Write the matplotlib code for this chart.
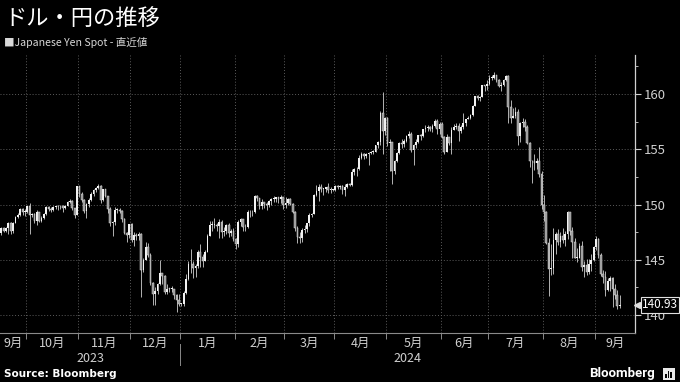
import numpy as np
import pandas as pd
import matplotlib
matplotlib.use("Agg")
import matplotlib.pyplot as plt
import matplotlib.transforms as mtransforms
from matplotlib.patches import Rectangle

plt.rcParams["font.family"] = ["Noto Sans CJK JP", "DejaVu Sans"]

# daily USD/JPY, 2023-09-15 .. 2024-09-16 (weekdays)
first_open = 147.45
close = [
    147.85, 147.62, 147.85, 148.35, 147.60, 148.37, 148.85, 149.05, 149.63, 149.32, 149.37,
    149.86, 149.03, 149.13, 148.50, 149.32, 148.52, 148.74, 149.13, 149.80, 149.56, 149.50,
    149.80, 149.87, 149.83, 149.86, 149.72, 149.90, 150.20, 150.35, 149.65, 149.10, 151.68,
    150.95, 150.45, 149.38, 150.05, 150.38, 150.95, 151.35, 151.52, 151.69, 150.39, 151.38,
    150.73, 149.60, 148.35, 148.38, 149.55, 149.55, 149.44, 148.70, 147.43, 147.27, 148.20,
    146.80, 147.22, 147.17, 147.30, 144.10, 144.95, 146.20, 145.40, 142.90, 141.90, 142.15,
    142.80, 143.80, 143.55, 142.10, 142.40, 142.35, 142.40, 141.80, 141.40, 141.00,
    141.00, 142.00, 143.30, 144.60, 144.60, 144.25, 144.45, 145.75, 145.28, 144.90, 145.75,
    147.20, 148.15, 148.15, 148.15, 148.10, 148.40, 147.55, 147.65, 148.15, 147.45, 147.60, 146.90,
    146.45, 148.40, 148.65, 147.95, 147.95, 149.30, 149.30, 149.35, 150.80, 150.60, 149.90,
    150.25, 150.05, 150.00, 150.30, 150.50, 150.50, 150.65, 150.50, 150.65, 149.95,
    150.10, 150.50, 150.05, 149.35, 147.85, 147.05, 146.95, 147.70, 147.75, 148.30, 149.05,
    149.15, 150.85, 151.25, 151.55, 151.40, 151.40, 151.55, 151.35, 151.35, 151.35,
    151.65, 151.55, 151.70, 151.35, 151.60, 151.85, 151.75, 152.95, 153.20, 153.25, 154.25,
    154.60, 154.35, 154.60, 154.65, 154.80, 154.80, 155.35, 155.65, 158.30, 156.70, 157.80,
    155.60, 155.65, 153.05, 153.90, 154.65, 155.55, 155.45, 155.75, 156.20, 156.40, 154.90,
    155.40, 155.65, 156.25, 156.20, 156.80, 156.95, 157.00, 156.85, 157.15, 157.60, 156.80, 157.30,
    156.10, 154.80, 156.10, 155.60, 156.75, 157.05, 157.15, 156.65, 157.05, 157.35,
    157.70, 157.85, 158.10, 158.95, 159.80, 159.65, 159.70, 160.80, 160.75, 160.90,
    161.45, 161.45, 161.70, 161.25, 160.75, 160.85, 161.30, 161.60, 158.80, 157.85, 158.05,
    158.35, 156.20, 157.40, 157.45, 157.00, 155.60, 153.90, 153.95, 153.75, 153.90, 152.75, 149.95,
    149.35, 146.55, 144.20, 144.30, 146.80, 147.30, 146.60, 147.20, 146.80, 147.30, 149.30,
    147.65, 146.65, 145.20, 145.20, 146.25, 144.35, 144.50, 143.90, 144.60, 144.95, 146.15,
    146.90, 145.45, 143.75, 143.45, 142.30, 143.10, 143.40, 142.40, 141.80, 140.85, 140.93,
]
high = [
    147.95, 147.95, 148.00, 148.45, 148.45, 148.45, 148.95, 149.20, 149.70, 149.70, 149.60,
    149.90, 150.16, 149.25, 149.20, 149.53, 149.35, 148.95, 149.20, 149.85, 149.85, 149.75,
    149.85, 149.90, 150.00, 150.00, 150.00, 149.95, 150.30, 150.50, 150.40, 149.65, 151.70,
    151.72, 151.10, 150.50, 150.15, 150.55, 151.10, 151.45, 151.60, 151.90, 151.75, 151.45,
    151.40, 150.75, 149.75, 148.50, 149.75, 149.65, 149.70, 149.50, 148.80, 147.50, 148.25,
    148.35, 147.50, 147.45, 147.50, 147.40, 145.20, 146.60, 146.55, 145.60, 143.00, 142.50,
    142.90, 144.95, 143.85, 143.60, 142.80, 142.45, 142.65, 142.40, 141.95, 141.90,
    141.10, 142.20, 143.70, 144.85, 145.98, 144.85, 144.65, 145.85, 146.40, 145.55, 145.90,
    147.30, 148.50, 148.50, 148.80, 148.35, 148.70, 148.60, 147.95, 148.20, 148.30, 147.80, 147.90,
    147.00, 148.60, 148.80, 148.70, 148.20, 149.55, 149.50, 149.55, 150.90, 150.90, 150.60,
    150.50, 150.25, 150.20, 150.40, 150.55, 150.80, 150.70, 150.70, 150.85, 150.70,
    150.70, 150.60, 150.55, 150.10, 149.40, 148.10, 147.50, 147.90, 148.15, 148.35, 149.20,
    149.25, 150.95, 151.80, 151.85, 151.85, 151.50, 151.60, 151.97, 151.55, 151.45,
    151.75, 151.80, 151.80, 151.80, 151.85, 151.95, 151.95, 153.25, 153.30, 153.40, 154.45,
    154.80, 154.70, 154.70, 154.80, 154.85, 154.90, 155.40, 155.75, 158.45, 160.20, 157.95,
    157.95, 155.95, 155.70, 154.00, 154.75, 155.65, 155.95, 155.95, 156.25, 156.70, 156.55,
    155.50, 155.90, 156.30, 156.40, 156.85, 157.20, 157.20, 157.10, 157.30, 157.70, 157.70, 157.45,
    157.45, 156.20, 156.40, 156.15, 157.00, 157.30, 157.35, 157.40, 157.20, 158.25,
    157.75, 158.00, 158.20, 159.00, 159.85, 159.95, 159.85, 160.85, 160.85, 161.30,
    161.70, 161.75, 161.95, 161.70, 161.35, 161.10, 161.40, 161.75, 161.75, 159.45, 158.75,
    158.85, 158.60, 157.50, 157.85, 157.70, 157.20, 155.70, 154.05, 154.55, 154.20, 155.20, 153.00,
    150.90, 149.45, 147.00, 146.40, 147.90, 147.55, 147.80, 147.55, 147.90, 147.65, 149.40,
    149.35, 148.00, 147.00, 146.10, 146.50, 146.70, 144.85, 145.05, 145.05, 145.55, 146.25,
    147.20, 147.00, 145.60, 144.10, 144.00, 143.40, 143.50, 143.45, 142.80, 142.30, 141.80,
]
low = [
    147.25, 147.55, 147.55, 147.35, 147.30, 147.45, 148.30, 148.75, 148.95, 149.10, 148.95,
    149.25, 147.30, 148.85, 148.35, 148.15, 148.45, 148.40, 148.70, 149.05, 149.40, 149.35,
    149.45, 149.60, 149.55, 149.60, 149.30, 149.60, 149.85, 150.10, 149.55, 148.80, 149.05,
    150.70, 150.20, 149.20, 148.80, 149.80, 150.30, 150.80, 151.10, 151.45, 150.15, 150.30,
    150.65, 149.20, 148.10, 147.15, 148.15, 149.20, 149.25, 148.45, 147.30, 146.65, 146.95,
    146.65, 146.23, 146.75, 146.75, 141.60, 143.90, 144.95, 145.30, 142.70, 140.95, 140.95,
    141.95, 142.70, 142.80, 141.90, 141.90, 142.10, 142.10, 141.50, 140.25, 140.85,
    140.80, 140.80, 141.90, 143.20, 143.80, 143.40, 143.45, 144.30, 144.35, 144.35, 144.85,
    145.80, 147.15, 147.60, 147.85, 147.60, 146.98, 147.00, 147.20, 147.35, 147.10, 147.15, 146.70,
    146.00, 146.20, 148.05, 147.60, 147.60, 147.90, 148.85, 148.95, 149.20, 150.30, 149.60,
    149.60, 149.65, 149.55, 149.75, 150.00, 150.25, 150.20, 150.10, 150.10, 149.60,
    149.70, 149.95, 149.95, 149.25, 147.60, 146.50, 146.50, 146.60, 147.40, 147.50, 148.10,
    148.85, 149.15, 150.75, 150.30, 151.10, 150.85, 151.10, 151.05, 151.05, 151.20,
    151.25, 151.45, 151.40, 151.00, 150.80, 151.50, 151.65, 151.65, 152.70, 152.60, 153.15,
    154.10, 154.10, 154.25, 153.60, 154.55, 154.55, 154.75, 155.10, 155.40, 154.55, 156.25,
    155.30, 153.05, 151.86, 152.80, 153.85, 154.60, 155.10, 155.20, 155.65, 156.00, 154.75,
    153.60, 155.10, 155.55, 155.80, 156.10, 156.60, 156.70, 156.65, 156.60, 157.00, 156.40, 156.40,
    156.00, 154.55, 154.90, 155.40, 154.60, 156.75, 156.80, 155.75, 156.50, 156.85,
    157.10, 157.70, 157.70, 158.05, 158.90, 159.50, 159.35, 159.75, 160.30, 160.40,
    160.80, 161.25, 161.35, 161.05, 160.65, 160.25, 160.75, 161.15, 157.40, 157.40, 157.80,
    157.80, 155.35, 155.70, 157.00, 156.65, 155.45, 153.40, 151.95, 153.10, 153.20, 152.50, 149.60,
    148.50, 146.40, 141.70, 143.60, 143.75, 145.50, 146.30, 146.20, 146.50, 146.25, 146.90,
    147.25, 145.20, 145.20, 144.80, 145.20, 144.00, 143.45, 143.60, 143.70, 144.00, 144.85,
    145.90, 145.20, 143.50, 142.90, 141.75, 142.20, 142.20, 140.70, 141.50, 140.55, 140.60,
]
last_value = 140.93
month_names = ["9月", "10月", "11月", "12月", "1月", "2月", "3月", "4月",
               "5月", "6月", "7月", "8月", "9月"]
y_ticks = [140, 145, 150, 155, 160]

dates = pd.bdate_range("2023-09-15", "2024-09-16")
c = np.array(close)
o = np.array([first_open] + close[:-1])
h = np.maximum(np.array(high), np.maximum(o, c))
l = np.minimum(np.array(low), np.minimum(o, c))
x = np.arange(len(dates))

fig = plt.figure(figsize=(6.8, 3.82), dpi=100, facecolor="black")
ax = fig.add_axes([0.0, 0.128, 0.934, 0.728], facecolor="black")
x_max = 267.5
ax.set_xlim(-0.5, x_max)
ax.set_ylim(138.37, 163.53)

# month boundaries
starts = [0] + [i for i in range(1, len(dates)) if dates[i].month != dates[i - 1].month]
bounds = [s - 0.5 for s in starts[1:]]
for b in bounds:
    ax.axvline(b, color="#5c5c5c", lw=0.7, ls=(0, (1, 2)), zorder=0)
for v in y_ticks:
    ax.axhline(v, color="#5c5c5c", lw=0.7, ls=(0, (1, 2)), zorder=0)

# candles
up = c >= o
body_lo = np.minimum(o, c)
body_h = np.maximum(np.abs(c - o), 0.06)
ax.vlines(x, l, h, color="#cfcfcf", lw=0.6, zorder=2)
ax.bar(x[up], body_h[up], bottom=body_lo[up], width=0.72,
       color="#f2f2f2", edgecolor="none", zorder=3)
ax.bar(x[~up], body_h[~up], bottom=body_lo[~up], width=0.72,
       color="#8f8f8f", edgecolor="#dedede", linewidth=0.35, zorder=3)

# spines
for s in ["top", "left"]:
    ax.spines[s].set_visible(False)
ax.spines["right"].set_color("#d0d0d0")
ax.spines["right"].set_linewidth(0.9)
ax.spines["bottom"].set_color("#8a8a8a")
ax.spines["bottom"].set_linewidth(0.8)

# y axis on right
ax.yaxis.tick_right()
ax.set_yticks(y_ticks)
ax.set_yticklabels([str(v) for v in y_ticks])
ax.set_yticks([142.5, 147.5, 152.5, 157.5, 162.5], minor=True)
ax.tick_params(axis="y", which="major", colors="#d0d0d0", labelsize=9.5,
               length=4, width=0.8, pad=2)
ax.tick_params(axis="y", which="minor", colors="#d0d0d0", length=2.5, width=0.6)

# x axis: ticks at month boundaries, labels centered in months
ax.set_xticks(bounds)
ax.set_xticklabels([])
ax.tick_params(axis="x", which="major", colors="#8a8a8a", length=4, width=0.7)
edges = [-0.5] + bounds + [x_max]
centers = [(edges[i] + edges[i + 1]) / 2 for i in range(len(edges) - 1)]
ax.set_xticks(centers, minor=True)
ax.set_xticklabels(month_names, minor=True)
ax.tick_params(axis="x", which="minor", length=0, colors="#d0d0d0",
               labelsize=9, pad=3)

trans = mtransforms.blended_transform_factory(ax.transData, ax.transAxes)
year_split = bounds[3]
ax.text((-0.5 + year_split) / 2, -0.09, "2023", transform=trans, ha="center",
        va="center", color="#d0d0d0", fontsize=9)
ax.text((year_split + x_max) / 2, -0.09, "2024", transform=trans, ha="center",
        va="center", color="#d0d0d0", fontsize=9)
ax.plot([year_split, year_split], [-0.04, -0.115], transform=trans,
        color="#8a8a8a", lw=0.7, clip_on=False)

# last value tag
ax.annotate(f"{last_value:.2f}", xy=(1.0, last_value),
            xycoords=("axes fraction", "data"), xytext=(5, 0),
            textcoords="offset points", ha="left", va="center",
            fontsize=8.5, color="white", zorder=10,
            bbox=dict(boxstyle="square,pad=0.12", fc="black", ec="#e0e0e0", lw=0.8),
            annotation_clip=False)
ax.plot([1.0 + 0.003], [last_value], marker="<", ms=5, color="#e0e0e0",
        transform=mtransforms.blended_transform_factory(ax.transAxes, ax.transData),
        clip_on=False, zorder=11)

# titles and footer
fig.text(0.006, 0.952, "ドル・円の推移", color="white", fontsize=16,
         ha="left", va="center")
fig.text(0.006, 0.888, "■Japanese Yen Spot - 直近値", color="#d8d8d8", fontsize=7.6,
         ha="left", va="center")
fig.text(0.006, 0.02, "Source: Bloomberg", color="white", fontsize=7.5,
         fontweight="bold", ha="left", va="center", family="DejaVu Sans")
fig.text(0.963, 0.022, "Bloomberg", color="white", fontsize=9.5,
         fontweight="bold", ha="right", va="center", family="Roboto")
fig.patches.append(Rectangle((0.975, 0.005), 0.017, 0.032, transform=fig.transFigure,
                             facecolor="#e8e8e8", edgecolor="none"))
for k, hh in enumerate([0.010, 0.018, 0.014]):
    fig.patches.append(Rectangle((0.978 + k * 0.004, 0.011), 0.0025, hh,
                                 transform=fig.transFigure, facecolor="black",
                                 edgecolor="none"))

fig.savefig("out.png", dpi=100, facecolor="black")
